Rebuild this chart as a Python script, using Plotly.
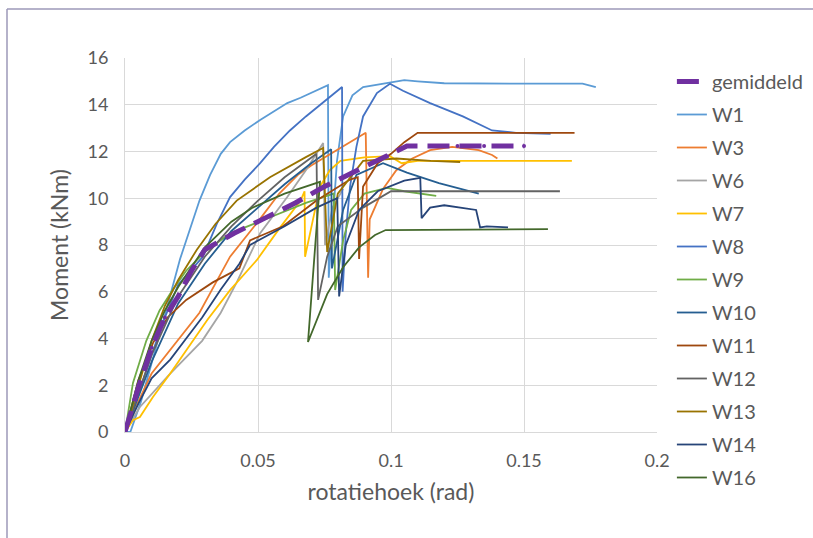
import plotly.graph_objects as go

# ---- data (rotatiehoek in rad, moment in kNm) ----
gem_x = [0, 0.005, 0.01, 0.015, 0.02, 0.025, 0.03, 0.041, 0.0526, 0.064, 0.075, 0.0857, 0.0985, 0.106, 0.115, 0.125, 0.135, 0.15]
gem_y = [0, 1.9, 3.6, 4.9, 5.8, 6.9, 7.8, 8.5, 9.15, 9.8, 10.5, 11.1, 11.8, 12.24, 12.24, 12.24, 12.24, 12.24]

w1_x = [0, 0.002, 0.006, 0.01, 0.015, 0.0207, 0.0256, 0.028, 0.032, 0.036, 0.0395, 0.045, 0.0508, 0.056, 0.061, 0.066, 0.0707, 0.0763, 0.0766, 0.078, 0.0797, 0.082, 0.0855, 0.0895, 0.0996, 0.105, 0.11, 0.12, 0.15, 0.172, 0.177]
w1_y = [0, 0, 1.3, 2.9, 5.0, 7.4, 9.07, 9.9, 11.0, 11.9, 12.4, 12.9, 13.35, 13.7, 14.07, 14.3, 14.55, 14.84, 6.6, 9.0, 11.6, 13.5, 14.4, 14.76, 14.97, 15.05, 15.0, 14.92, 14.9, 14.9, 14.75]

w3_x = [0, 0.005, 0.01, 0.017, 0.028, 0.0395, 0.05, 0.058, 0.065, 0.07, 0.08, 0.0905, 0.0914, 0.092, 0.097, 0.102, 0.108, 0.1147, 0.123, 0.133, 0.138, 0.14]
w3_y = [0, 1.3, 2.5, 3.5, 5.1, 7.5, 9.0, 10.2, 11.0, 11.4, 12.1, 12.8, 6.6, 9.1, 10.4, 11.2, 11.7, 12.06, 12.2, 12.06, 11.85, 11.7]

w6_x = [0, 0.0056, 0.017, 0.029, 0.036, 0.042, 0.0508, 0.061, 0.068, 0.0745, 0.0752, 0.078, 0.082]
w6_y = [0, 1.07, 2.5, 3.9, 5.1, 6.4, 8.5, 10.05, 11.2, 12.36, 8.0, 9.6, 10.4]

w7_x = [0, 0.003, 0.0056, 0.0105, 0.017, 0.023, 0.031, 0.0395, 0.0496, 0.058, 0.066, 0.0675, 0.0677, 0.0705, 0.0733, 0.077, 0.081, 0.09, 0.0996, 0.104, 0.11, 0.14, 0.168]
w7_y = [0, 0.5, 0.64, 1.5, 2.5, 3.5, 4.8, 6.07, 7.36, 8.7, 9.9, 10.3, 7.5, 9.0, 10.5, 11.2, 11.6, 11.75, 11.8, 11.5, 11.6, 11.6, 11.6]

w8_x = [0, 0.005, 0.01, 0.015, 0.02, 0.0293, 0.0345, 0.0395, 0.045, 0.0508, 0.056, 0.062, 0.068, 0.0745, 0.0816, 0.0818, 0.083, 0.0846, 0.087, 0.0895, 0.0947, 0.0996, 0.1045, 0.1147, 0.127, 0.138, 0.147, 0.16]
w8_y = [0, 1.6, 3.3, 4.9, 6.3, 7.5, 8.9, 10.05, 10.8, 11.5, 12.2, 12.9, 13.5, 14.1, 14.76, 6.0, 8.5, 10.5, 12.2, 13.5, 14.5, 14.9, 14.6, 14.07, 13.5, 12.9, 12.8, 12.75]

w9_x = [0, 0.003, 0.008, 0.013, 0.018, 0.023, 0.03, 0.0395, 0.052, 0.068, 0.0745, 0.0785, 0.079, 0.082, 0.085, 0.09, 0.0985, 0.105, 0.117]
w9_y = [0, 2.1, 3.9, 5.2, 6.1, 6.9, 7.7, 8.5, 9.07, 9.8, 10.05, 10.2, 6.07, 8.2, 9.5, 10.2, 10.44, 10.3, 10.1]

w10_x = [0, 0.01, 0.02, 0.03, 0.04, 0.05, 0.06, 0.07, 0.0775, 0.0778, 0.082, 0.087, 0.097, 0.106, 0.118, 0.133]
w10_y = [0, 3.0, 5.5, 7.2, 8.6, 9.6, 10.6, 11.5, 12.1, 7.0, 9.5, 11.0, 11.5, 11.1, 10.65, 10.2]

w11_x = [0, 0.005, 0.0105, 0.016, 0.023, 0.033, 0.043, 0.047, 0.0594, 0.072, 0.0846, 0.0875, 0.088, 0.0895, 0.095, 0.1, 0.105, 0.11, 0.14, 0.169]
w11_y = [0, 2.2, 3.8, 4.9, 5.65, 6.4, 7.0, 8.2, 8.8, 9.9, 10.8, 10.9, 7.4, 10.5, 11.5, 11.9, 12.4, 12.8, 12.8, 12.8]

w12_x = [0, 0.005, 0.01, 0.02, 0.03, 0.04, 0.05, 0.06, 0.072, 0.0726, 0.076, 0.08, 0.0895, 0.1, 0.13, 0.1635]
w12_y = [0, 1.7, 3.3, 5.8, 7.5, 8.8, 9.9, 10.9, 11.9, 5.65, 7.5, 8.8, 9.6, 10.3, 10.3, 10.3]

w13_x = [0, 0.005, 0.01, 0.015, 0.02, 0.027, 0.034, 0.042, 0.0545, 0.068, 0.0745, 0.076, 0.08, 0.0895, 0.102, 0.115, 0.126]
w13_y = [0, 2.0, 3.9, 5.4, 6.5, 7.8, 8.9, 9.9, 10.9, 11.76, 12.15, 7.7, 10.2, 11.6, 11.7, 11.6, 11.55]

w14_x = [0, 0.005, 0.01, 0.017, 0.023, 0.029, 0.036, 0.043, 0.047, 0.06, 0.072, 0.0798, 0.0805, 0.083, 0.088, 0.095, 0.105, 0.111, 0.1115, 0.1147, 0.12, 0.132, 0.1335, 0.136, 0.144]
w14_y = [0, 1.2, 2.3, 3.1, 4.0, 4.9, 6.1, 7.2, 8.0, 8.8, 9.6, 10.0, 5.8, 8.0, 9.5, 10.3, 10.75, 10.87, 9.15, 9.6, 9.7, 9.5, 8.75, 8.8, 8.75]

w16_x = [0, 0.005, 0.01, 0.015, 0.02, 0.03, 0.04, 0.048, 0.06, 0.0733, 0.0688, 0.0725, 0.076, 0.082, 0.088, 0.094, 0.098, 0.159]
w16_y = [0, 2.2, 3.9, 5.2, 6.2, 7.9, 9.0, 9.6, 10.2, 10.7, 3.85, 4.9, 5.9, 7.05, 7.9, 8.43, 8.64, 8.68]

series = [
    ("W1", w1_x, w1_y, "#5B9BD5"),
    ("W3", w3_x, w3_y, "#ED7D31"),
    ("W6", w6_x, w6_y, "#A5A5A5"),
    ("W7", w7_x, w7_y, "#FFC000"),
    ("W8", w8_x, w8_y, "#4472C4"),
    ("W9", w9_x, w9_y, "#70AD47"),
    ("W10", w10_x, w10_y, "#255E91"),
    ("W11", w11_x, w11_y, "#9E480E"),
    ("W12", w12_x, w12_y, "#636363"),
    ("W13", w13_x, w13_y, "#997300"),
    ("W14", w14_x, w14_y, "#264478"),
    ("W16", w16_x, w16_y, "#43682B"),
]

x_ticks = [0, 0.05, 0.1, 0.15, 0.2]
x_ticklabels = ["0", "0.05", "0.1", "0.15", "0.2"]
y_ticks = [0, 2, 4, 6, 8, 10, 12, 14, 16]

FONT = "Lato, Carlito, Calibri, sans-serif"

fig = go.Figure()
for i, (name, xs, ys, col) in enumerate(series):
    fig.add_trace(go.Scatter(
        x=xs, y=ys, name=name, mode="lines",
        line=dict(color=col, width=1.8), legendgroup=f"g{i+1:02d}", legendrank=10 + i,
    ))
fig.add_trace(go.Scatter(
    x=gem_x, y=gem_y, name="gemiddeld", mode="lines+markers",
    line=dict(color="#7030A0", width=5, dash="22px,10px"),
    marker=dict(size=4, color="#7030A0"), legendgroup="g00", legendrank=1,
))

fig.update_layout(
    width=813, height=538,
    margin=dict(l=125, r=156, t=58, b=106, autoexpand=False),
    paper_bgcolor="white", plot_bgcolor="white",
    font=dict(family=FONT, color="#595959", size=18),
    showlegend=True,
    legend=dict(
        x=1.028, xref="paper", y=1 - 62 / 538, yref="container",
        xanchor="left", yanchor="top", maxheight=1,
        font=dict(family=FONT, size=20, color="#595959"),
        tracegroupgap=4, traceorder="grouped",
        bgcolor="rgba(0,0,0,0)",
    ),
    xaxis=dict(
        range=[0, 0.2], tickvals=x_ticks, ticktext=x_ticklabels,
        showgrid=True, gridcolor="#D9D9D9", gridwidth=1,
        zeroline=False, showline=True, linecolor="#D9D9D9", linewidth=1,
        ticks="outside", ticklen=12, tickcolor="rgba(0,0,0,0)",
        tickfont=dict(family=FONT, size=18, color="#595959"),
        title=dict(text="rotatiehoek (rad)", font=dict(family=FONT, size=23, color="#595959"), standoff=14),
        fixedrange=True,
    ),
    yaxis=dict(
        range=[0, 16], tickvals=y_ticks,
        showgrid=True, gridcolor="#D9D9D9", gridwidth=1,
        zeroline=False, showline=True, linecolor="#D9D9D9", linewidth=1,
        ticks="outside", ticklen=12, tickcolor="rgba(0,0,0,0)",
        tickfont=dict(family=FONT, size=18, color="#595959"),
        title=dict(text="Moment (kNm)", font=dict(family=FONT, size=23, color="#595959"), standoff=12),
        fixedrange=True,
    ),
)

# outer frame (top and left edges, as in the cropped original)
fx = (7 - 125) / 532
fy = (432 - 9) / 374
fig.add_shape(type="line", xref="paper", yref="paper",
              x0=fx, x1=fx, y0=(432 - 560) / 374, y1=fy,
              line=dict(color="#9C98B8", width=1.5))
fig.add_shape(type="line", xref="paper", yref="paper",
              x0=fx, x1=(840 - 125) / 532, y0=fy, y1=fy,
              line=dict(color="#9C98B8", width=1.5))

fig.write_html("out.html", config={"displayModeBar": False})
